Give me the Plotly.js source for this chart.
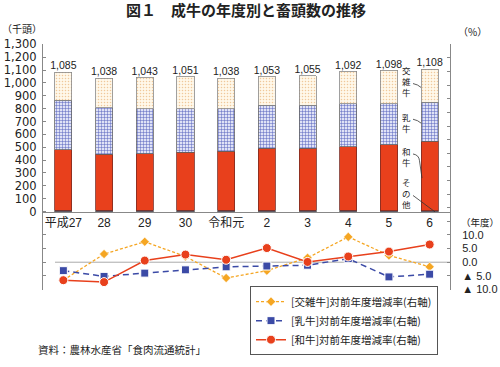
<!DOCTYPE html>
<html>
<head>
<meta charset="utf-8">
<script src="https://cdn.plot.ly/plotly-3.0.1.min.js"></script>
<style>
html,body{margin:0;padding:0;background:#fff;}
#chart{width:500px;height:367px;}
</style>
</head>
<body>
<div id="chart"></div>
<script>
// ---- data ----
const categories = ['平成27','28','29','30','令和元','2','3','4','5','6'];
const totals   = [1085,1038,1043,1051,1038,1053,1055,1092,1098,1108];
const sonota   = [12,12,11,11,11,10,10,9,8,5];
const wagyu    = [468,434,439,452,457,483,483,494,513,541];
const nyugyu   = [386,362,350,337,332,332,332,335,317,306];
const kozatsu  = [219,230,243,251,238,228,230,254,260,256];
const rateKozatsu = [-6.6,3.0,7.5,2.1,-5.8,-3.1,1.6,9.3,2.5,-1.7];
const rateNyugyu  = [-3.1,-5.2,-4.0,-2.8,-1.7,-1.4,-1.1,1.3,-5.4,-4.4];
const rateWagyu   = [-6.6,-7.3,0.6,2.8,0.9,5.2,0.1,2.1,3.9,6.5];
const leftTicks  = [0,100,200,300,400,500,600,700,800,900,1000,1100,1200,1300];
const rightTicks = [-10,-5,0,5,10,15,20,25,30,35,40,45,50,55,60,65,70,75,80];
const rightLabelled = [-10,-5,0,5,10];
const legendNames = ['[交雑牛]対前年度増減率(右軸)','[乳牛]対前年度増減率(右軸)','[和牛]対前年度増減率(右軸)'];
const sideLabels = ['交雑牛','乳牛','和牛','その他'];

const JP = 'Noto Sans CJK JP';
const LAT = 'Liberation Sans, Noto Sans CJK JP';
const barLine = {color:'#666', width:0.8};

const traces = [
  {type:'bar', x:categories, y:sonota, marker:{color:'#3d1f4f', line:barLine}, showlegend:false, hoverinfo:'skip'},
  {type:'bar', x:categories, y:wagyu, marker:{color:'#e8401c', line:{color:'#7a2a22',width:0.8}}, showlegend:false, hoverinfo:'skip'},
  {type:'bar', x:categories, y:nyugyu, marker:{color:'#dfe2f6', line:barLine,
     pattern:{shape:'+', fgcolor:'#5560bd', bgcolor:'#dfe2f6', size:3, solidity:0.3}}, showlegend:false, hoverinfo:'skip'},
  {type:'bar', x:categories, y:kozatsu, marker:{color:'#fff6e6', line:{color:'#888',width:0.8},
     pattern:{shape:'.', fgcolor:'#f0c89a', bgcolor:'#fff8ea', size:3, solidity:0.2}}, showlegend:false, hoverinfo:'skip'},
  {type:'scatter', mode:'text', x:categories, y:totals, text:totals.map(v=>v.toLocaleString('en-US')),
     textposition:'top center', textfont:{family:LAT, size:10.5, color:'#222'}, cliponaxis:false, showlegend:false, hoverinfo:'skip'},
  {type:'scatter', mode:'lines+markers', x:categories, y:rateKozatsu, yaxis:'y2', name:legendNames[0],
     line:{color:'#f5a623', width:1.3, dash:'3px,2px'}, marker:{symbol:'diamond', size:7, color:'#f5a623', line:{color:'#fff',width:0.5}}, cliponaxis:false},
  {type:'scatter', mode:'lines+markers', x:categories, y:rateNyugyu, yaxis:'y2', name:legendNames[1],
     line:{color:'#3b4aa6', width:1.5, dash:'6px,4px'}, marker:{symbol:'square', size:8, color:'#3b4aa6', line:{color:'#fff',width:1}}, cliponaxis:false},
  {type:'scatter', mode:'lines+markers', x:categories, y:rateWagyu, yaxis:'y2', name:legendNames[2],
     line:{color:'#e8401c', width:1.5}, marker:{symbol:'circle', size:9, color:'#e8401c', line:{color:'#fff',width:1}}, cliponaxis:false}
];

// plot-area geometry helpers (pixel -> paper)
const L=43, R=450, T=44, B=299;
const px = v => (v-L)/(R-L);
const py = v => (B-v)/(B-T);

const annotations = [
  {text:'（千頭）', xref:'paper', yref:'paper', x:px(1), y:py(28), xanchor:'left', yanchor:'middle', showarrow:false, borderpad:0, font:{family:JP,size:10,color:'#222'}},
  {text:'（%）', xref:'paper', yref:'paper', x:px(456), y:py(31), xanchor:'left', yanchor:'middle', showarrow:false, font:{family:JP,size:10,color:'#222'}},
  {text:'（年度）', xref:'paper', yref:'paper', x:px(459), y:py(229), xanchor:'left', yanchor:'middle', showarrow:false, font:{family:JP,size:9.5,color:'#222'}},
  {text:'資料：農林水産省「食肉流通統計」', xref:'paper', yref:'paper', x:px(36), y:py(361), xanchor:'left', yanchor:'middle', showarrow:false, font:{family:JP,size:10.5,color:'#222'}}
];
const labelCenterY = [82, 125, 161, 198];
sideLabels.forEach((lab,i)=>{
  annotations.push({text:Array.from(lab).join('<br>'), xref:'paper', yref:'paper', x:px(406.5), y:py(labelCenterY[i]),
    xanchor:'center', yanchor:'middle', showarrow:false, borderpad:0, font:{family:JP,size:8.5,color:'#222'}});
});

const lc = {color:'#333', width:0.8};
const shapes = [
  {type:'line', xref:'paper', yref:'y2', x0:px(55), x1:1, y0:0, y1:0, line:{color:'#aaa', width:1}, layer:'below'},
  {type:'path', xref:'paper', yref:'paper', path:`M${px(413)},${py(85)} Q${px(418)},${py(86)} ${px(421)},${py(89)}`, line:lc},
  {type:'path', xref:'paper', yref:'paper', path:`M${px(413)},${py(122)} Q${px(418)},${py(123)} ${px(421)},${py(126)}`, line:lc},
  {type:'path', xref:'paper', yref:'paper', path:`M${px(413)},${py(158)} Q${px(419)},${py(159)} ${px(419.5)},${py(165)} L${px(422)},${py(183)}`, line:lc},
  {type:'line', xref:'paper', yref:'paper', x0:px(413), y0:py(201), x1:px(435), y1:py(218), line:lc}
];

const layout = {
  width:500, height:367,
  margin:{l:L, r:500-R, t:T, b:367-B, pad:0},
  paper_bgcolor:'#fff', plot_bgcolor:'rgba(0,0,0,0)',
  barmode:'stack', bargap:0.58,
  title:{text:'図１　成牛の年度別と畜頭数の推移', x:0.492, xanchor:'center', y:1-11/367, yanchor:'middle',
         font:{family:JP, size:15, color:'#222', weight:'bold'}},
  font:{family:LAT, color:'#222'},
  xaxis:{type:'category', range:[-0.5,9.5], anchor:'free', position:py(217.7), showline:true, linecolor:'#888', linewidth:1,
         ticks:'', showgrid:false, zeroline:false, tickfont:{family:LAT, size:12, color:'#222'}, fixedrange:true},
  yaxis:{range:[-610,1303], tickvals:leftTicks, tickformat:',d', showline:true, linecolor:'#888', linewidth:1,
         ticks:'inside', ticklen:3, tickcolor:'#888', showgrid:false, zeroline:false,
         tickfont:{family:'DejaVu Sans', size:11.5, color:'#222'}, ticklabelstandoff:3, fixedrange:true},
  yaxis2:{overlaying:'y', side:'right', range:[-10.2,80.1], tickvals:rightTicks,
          ticktext:rightTicks.map(v=> rightLabelled.includes(v) ? (v<0 ? '▲ '+(-v).toFixed(1) : v.toFixed(1)) : ''),
          showline:true, linecolor:'#888', linewidth:1, ticks:'inside', ticklen:3, tickcolor:'#888',
          showgrid:false, zeroline:false, tickfont:{family:LAT, size:11, color:'#222'}, ticklabelstandoff:9, fixedrange:true},
  yaxis3:{overlaying:'y', side:'left', range:[-10.2,80.1], tickvals:rightLabelled, showticklabels:false, showline:false,
          ticks:'inside', ticklen:3, tickcolor:'#888', showgrid:false, zeroline:false, fixedrange:true},
  legend:{x:px(250), y:py(295), xanchor:'left', yanchor:'top', bgcolor:'#fff', bordercolor:'#555', borderwidth:1,
          font:{family:JP, size:10.5, color:'#222'}, tracegroupgap:0, itemwidth:30, traceorder:'normal'},
  showlegend:true,
  annotations:annotations,
  shapes:shapes
};

// invisible helper trace so that yaxis3 (left ticks of the lower panel) is drawn
traces.push({type:'scatter', x:[categories[0]], y:[0], yaxis:'y3', mode:'markers', marker:{opacity:0}, showlegend:false, hoverinfo:'skip'});

Plotly.newPlot('chart', traces, layout, {staticPlot:true, displayModeBar:false});
</script>
</body>
</html>
